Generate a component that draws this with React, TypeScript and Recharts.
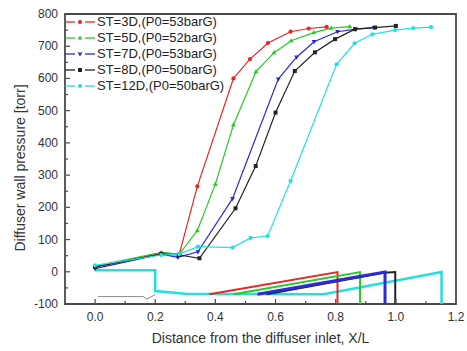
import { ComposedChart, Legend, Line, ReferenceArea, XAxis, YAxis } from "recharts";

// measured pressure, X/L positions and torr values per throat length
const POS_3D = [0, 0.22, 0.28, 0.34, 0.46, 0.515, 0.575, 0.65, 0.71, 0.77];
const P_3D = [15, 58, 55, 265, 600, 660, 710, 745, 755, 760];
const POS_5D = [0, 0.22, 0.28, 0.34, 0.4, 0.46, 0.535, 0.595, 0.652, 0.727, 0.785, 0.847];
const P_5D = [18, 60, 55, 128, 272, 456, 621, 680, 717, 742, 756, 761];
const POS_7D = [0, 0.22, 0.275, 0.342, 0.457, 0.609, 0.67, 0.728, 0.806, 0.867, 0.928];
const P_7D = [10, 55, 45, 62, 227, 598, 666, 714, 745, 753, 758];
const POS_8D = [0, 0.22, 0.28, 0.347, 0.467, 0.534, 0.6, 0.664, 0.731, 0.798, 0.864, 0.931, 1.0];
const P_8D = [15, 55, 52, 42, 197, 328, 494, 623, 681, 722, 753, 758, 763];
const POS_12D = [0, 0.22, 0.28, 0.342, 0.457, 0.517, 0.574, 0.65, 0.803, 0.863, 0.922, 0.998, 1.058, 1.117];
const P_12D = [20, 52, 55, 78, 75, 105, 111, 282, 644, 709, 737, 750, 756, 759];

// diffuser profile sketches under the curves
const SK_3D_X = [0.38, 0.806, 0.806];
const SK_3D_Y = [-70, -1, -100];
const SK_5D_X = [0.46, 0.881, 0.881];
const SK_5D_Y = [-70, -1, -100];
const SK_8D_X = [0.57, 0.96, 0.998, 0.998];
const SK_8D_Y = [-70, -3, -1, -100];
const SK_7D_X = [0.54, 0.964, 0.964];
const SK_7D_Y = [-70, -1, -100];
const SK_12D_X = [0, 0.2, 0.2, 0.3, 0.76, 1.152, 1.152];
const SK_12D_Y = [5, 5, -60, -68, -70, -1, -100];
const BREAK_X = [0.01, 0.16, 0.172, 0.2];
const BREAK_Y = [-77, -77, -85, -71];

const X_TICKS = [0, 0.1, 0.2, 0.3, 0.4, 0.5, 0.6, 0.7, 0.8, 0.9, 1.0, 1.1, 1.2];
const Y_TICKS = [-100, -50, 0, 50, 100, 150, 200, 250, 300, 350, 400, 450, 500, 550, 600, 650, 700, 750, 800];

const zip = (xs: number[], ys: number[]) => xs.map((x, i) => ({ x, y: ys[i] }));

const FONT = '"Liberation Sans", Arial, sans-serif';
const AXIS = "#4a4a4a";

type Shape = "circle" | "up" | "down" | "square" | "star";

const SERIES: { name: string; color: string; shape: Shape; pos: number[]; p: number[] }[] = [
  { name: "ST=3D,(P0=53barG)", color: "#ee2222", shape: "circle", pos: POS_3D, p: P_3D },
  { name: "ST=5D,(P0=52barG)", color: "#22cc22", shape: "up", pos: POS_5D, p: P_5D },
  { name: "ST=7D,(P0=53barG)", color: "#2a2ad8", shape: "down", pos: POS_7D, p: P_7D },
  { name: "ST=8D,(P0=50barG)", color: "#222222", shape: "square", pos: POS_8D, p: P_8D },
  { name: "ST=12D,(P0=50barG)", color: "#22e0e0", shape: "star", pos: POS_12D, p: P_12D },
];

const SKETCH = [
  { key: "s12", color: "#22e0e0", w: 2.5, pts: zip(SK_12D_X, SK_12D_Y) },
  { key: "sbr", color: "#8a8a8a", w: 1, pts: zip(BREAK_X, BREAK_Y) },
  { key: "s3", color: "#ee2222", w: 2, pts: zip(SK_3D_X, SK_3D_Y) },
  { key: "s5", color: "#22cc22", w: 2, pts: zip(SK_5D_X, SK_5D_Y) },
  { key: "s8", color: "#222222", w: 2, pts: zip(SK_8D_X, SK_8D_Y) },
  { key: "s7", color: "#2a2ad8", w: 3, pts: zip(SK_7D_X, SK_7D_Y) },
];

function Marker({ cx, cy, shape, color }: { cx: number; cy: number; shape: Shape; color: string }) {
  if (shape === "up") return <path d={`M${cx},${cy - 2.6}L${cx + 2.4},${cy + 1.6}L${cx - 2.4},${cy + 1.6}Z`} fill={color} />;
  if (shape === "down") return <path d={`M${cx},${cy + 2.6}L${cx + 2.4},${cy - 1.6}L${cx - 2.4},${cy - 1.6}Z`} fill={color} />;
  if (shape === "square") return <rect x={cx - 2} y={cy - 2} width={4} height={4} fill={color} />;
  return <circle cx={cx} cy={cy} r={2.1} fill={color} />;
}

function XTick({ x, y, payload }: any) {
  const v = payload.value as number;
  const major = Math.round(v * 10) % 2 === 0;
  return (
    <g>
      {v < 1.19 && <line x1={x} x2={x} y1={y} y2={y - (major ? 5 : 3)} stroke={AXIS} strokeWidth={1.2} />}
      {major && (
        <text x={x} y={y + 17} textAnchor="middle" fontSize={12} fill="#333" fontFamily={FONT}>
          {v.toFixed(1)}
        </text>
      )}
    </g>
  );
}

function YTick({ x, y, payload }: any) {
  const v = payload.value as number;
  const major = v % 100 === 0;
  return (
    <g>
      {v > -100 && v < 800 && <line x1={x} x2={x + (major ? 5 : 3)} y1={y} y2={y} stroke={AXIS} strokeWidth={1.2} />}
      {major && (
        <text x={x - 7} y={y + 4} textAnchor="end" fontSize={12} fill="#333" fontFamily={FONT}>
          {v}
        </text>
      )}
    </g>
  );
}

function YTitle({ viewBox }: any) {
  const cx = 20;
  const cy = viewBox.y + viewBox.height / 2 + 9;
  return (
    <text
      x={cx}
      y={cy}
      transform={`rotate(-90 ${cx} ${cy})`}
      textAnchor="middle"
      dominantBaseline="central"
      fontSize={14}
      fill="#333"
      fontFamily={FONT}
    >
      Diffuser wall pressure [torr]
    </text>
  );
}

function LegendBox() {
  return (
    <div style={{ fontFamily: FONT, fontSize: 13, color: "#222", textAlign: "left" }}>
      {SERIES.map((s) => (
        <div key={s.name} style={{ display: "flex", alignItems: "center", height: 16 }}>
          <svg width={30} height={16} style={{ display: "block" }}>
            <line x1={0} x2={10} y1={8} y2={8} stroke={s.color} strokeWidth={1.3} />
            <line x1={20} x2={30} y1={8} y2={8} stroke={s.color} strokeWidth={1.3} />
            <Marker cx={15} cy={8} shape={s.shape} color={s.color} />
          </svg>
          <span style={{ marginLeft: 2, lineHeight: "16px", whiteSpace: "nowrap" }}>{s.name}</span>
        </div>
      ))}
    </div>
  );
}

export default function App() {
  return (
    <div style={{ position: "absolute", left: 0, top: 0, width: 467, height: 351, background: "#fff" }}>
      <ComposedChart width={467} height={351} margin={{ top: 14, right: 11, bottom: 0, left: 0 }}>
        <XAxis
          type="number"
          dataKey="x"
          domain={[-0.1, 1.2]}
          ticks={X_TICKS}
          interval={0}
          allowDataOverflow
          height={47}
          tickSize={0}
          tickMargin={0}
          tickLine={false}
          axisLine={false}
          tick={<XTick />}
          label={{
            value: "Distance from the diffuser inlet, X/L",
            position: "insideBottom",
            offset: 8,
            fontSize: 14,
            fill: "#333",
            fontFamily: FONT,
          }}
        />
        <YAxis
          type="number"
          dataKey="y"
          domain={[-100, 800]}
          ticks={Y_TICKS}
          interval={0}
          allowDataOverflow
          width={65}
          tickSize={0}
          tickMargin={0}
          tickLine={false}
          axisLine={false}
          tick={<YTick />}
          label={{ content: <YTitle /> }}
        />
        {SKETCH.map((s) => (
          <Line
            key={s.key}
            data={s.pts}
            dataKey="y"
            type="linear"
            stroke={s.color}
            strokeWidth={s.w}
            dot={false}
            legendType="none"
            isAnimationActive={false}
          />
        ))}
        {SERIES.map((s) => (
          <Line
            key={s.name}
            name={s.name}
            data={zip(s.pos, s.p)}
            dataKey="y"
            type="linear"
            stroke={s.color}
            strokeWidth={1.2}
            dot={(d: any) => <Marker key={d.index} cx={d.cx} cy={d.cy} shape={s.shape} color={s.color} />}
            activeDot={false}
            isAnimationActive={false}
          />
        ))}
        <ReferenceArea x1={-0.1} x2={1.2} y1={-100} y2={800} fill="none" stroke={AXIS} strokeWidth={1.8} />
        <Legend
          layout="horizontal"
          align="center"
          verticalAlign="middle"
          wrapperStyle={{ left: 65, top: 14, width: "auto" }}
          content={() => <LegendBox />}
        />
      </ComposedChart>
    </div>
  );
}
